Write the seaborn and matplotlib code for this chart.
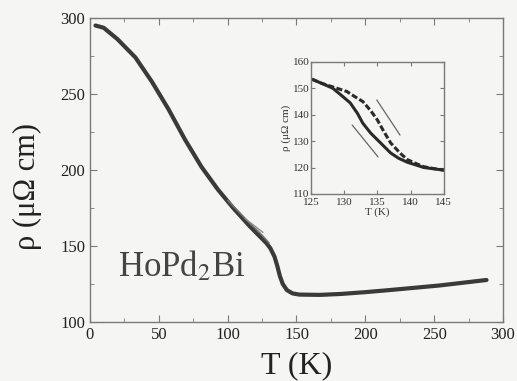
import matplotlib
matplotlib.use("Agg")
import matplotlib.pyplot as plt
import seaborn as sns
import pandas as pd
from matplotlib.ticker import MultipleLocator

# ---------------- data ----------------
# main curve, rho(T)
T_main = [4, 10, 20, 33, 45, 57, 69, 81, 93, 104, 116, 122, 128, 131, 134,
          136, 138, 140, 143, 147, 152, 167, 182, 200, 218, 236, 254, 270, 288]
rho_main = [295, 293.5, 286, 274, 258, 240, 220, 202, 187, 175, 163, 157.5,
            152, 148.5, 143, 137, 130, 125, 121, 118.8, 118, 117.8, 118.4,
            119.6, 121, 122.5, 124, 125.7, 127.6]

# hysteresis branch visible in the main panel
T_branch = [100, 108, 116, 124, 130]
rho_branch = [180, 172.5, 165, 158, 152]

# inset: cooling and warming branches
T_cool = [125.2, 126.5, 128.3, 129.5, 130.9, 132, 132.8, 134, 135, 136, 137,
          138.2, 139.5, 141, 142, 143.5, 145]
rho_cool = [153.4, 152, 150, 147.5, 144.5, 140.5, 136.8, 133, 130.5, 128,
            125.5, 123.5, 122, 120.8, 120, 119.5, 119]
T_warm = [125.2, 126.5, 128.3, 130.4, 131.5, 132.8, 134, 135, 136, 137,
          138.4, 139.5, 141, 142, 143.5, 145]
rho_warm = [153.4, 152, 150.5, 148.8, 147, 145, 141.5, 138, 133.5, 129.3,
            125.5, 123, 121.3, 120.3, 119.6, 119]

# direction guides (T, rho)
guide_main = [(112.6, 168.0), (125.7, 158.9)]
guide_warm = [(134.9, 145.6), (138.4, 132.3)]
guide_cool = [(131.2, 136.1), (135.1, 124.0)]

x_ticks = [0, 50, 100, 150, 200, 250, 300]
y_ticks = [100, 150, 200, 250, 300]
ix_ticks = [125, 130, 135, 140, 145]
iy_ticks = [110, 120, 130, 140, 150, 160]

# ---------------- style ----------------
sns.set_style("ticks")
plt.rcParams["font.family"] = ["Liberation Serif", "DejaVu Serif"]
plt.rcParams["mathtext.fontset"] = "stix"

bg = "#f5f5f3"
ink = "#3a3a3a"
edge = "#7a7a7a"

fig = plt.figure(figsize=(5.17, 3.81), dpi=100, facecolor=bg)
ax = fig.add_axes([0.174, 0.155, 0.799, 0.798])
ax.set_facecolor(bg)

main_df = pd.DataFrame({"T": T_main, "rho": rho_main})
branch_df = pd.DataFrame({"T": T_branch, "rho": rho_branch})
sns.lineplot(data=main_df, x="T", y="rho", ax=ax, color=ink, lw=3.0)
sns.lineplot(data=branch_df, x="T", y="rho", ax=ax, color="#707070", lw=1.2)
ax.annotate("", xy=guide_main[1], xytext=guide_main[0],
            arrowprops=dict(arrowstyle="-", color="#888888", lw=0.9,
                            shrinkA=0, shrinkB=0))

ax.set_xlim(0, 300)
ax.set_ylim(100, 300)
ax.set_xticks(x_ticks)
ax.set_yticks(y_ticks)
ax.xaxis.set_minor_locator(MultipleLocator(25))
ax.yaxis.set_minor_locator(MultipleLocator(25))
ax.tick_params(which="both", direction="in", top=True, right=True,
               colors=edge, labelcolor="#222222", labelsize=12)
ax.tick_params(which="major", length=5)
ax.tick_params(which="minor", length=3)
for s in ax.spines.values():
    s.set_color(edge)
    s.set_linewidth(1.0)

ax.set_xlabel("T (K)", fontsize=23, color="#222222", labelpad=6)
ax.set_ylabel("ρ (μΩ cm)", fontsize=22, color="#222222")
ax.yaxis.set_label_coords(-0.116, 0.444)
ax.text(0.068, 0.18, r"HoPd$_2$Bi", transform=ax.transAxes, fontsize=25,
        color="#444444", va="center", ha="left")

# ---------------- inset ----------------
ins = fig.add_axes([0.6015, 0.491, 0.257, 0.3465])
ins.set_facecolor(bg)

cool_df = pd.DataFrame({"T": T_cool, "rho": rho_cool})
warm_df = pd.DataFrame({"T": T_warm, "rho": rho_warm})
sns.lineplot(data=cool_df, x="T", y="rho", ax=ins, color="#2a2a2a", lw=2.2)
sns.lineplot(data=warm_df, x="T", y="rho", ax=ins, color="#2a2a2a", lw=2.2,
             linestyle=(0, (2, 0.8)))

for g in (guide_warm, guide_cool):
    ins.annotate("", xy=g[1], xytext=g[0],
                 arrowprops=dict(arrowstyle="-", color="#666666", lw=0.9,
                                 shrinkA=0, shrinkB=0))

ins.set_xlim(125, 145)
ins.set_ylim(110, 160)
ins.set_xticks(ix_ticks)
ins.set_yticks(iy_ticks)
ins.tick_params(which="both", direction="in", top=True, right=True,
                colors=edge, labelcolor="#333333", labelsize=8,
                length=3, pad=1)
ins.tick_params(axis="x", pad=3)
for s in ins.spines.values():
    s.set_color(edge)
    s.set_linewidth(1.0)
ins.set_xlabel("T (K)", fontsize=8, color="#333333", labelpad=0)
ins.set_ylabel("ρ (μΩ cm)", fontsize=8, color="#333333", labelpad=1)

fig.savefig("out.png", dpi=100, facecolor=bg)
